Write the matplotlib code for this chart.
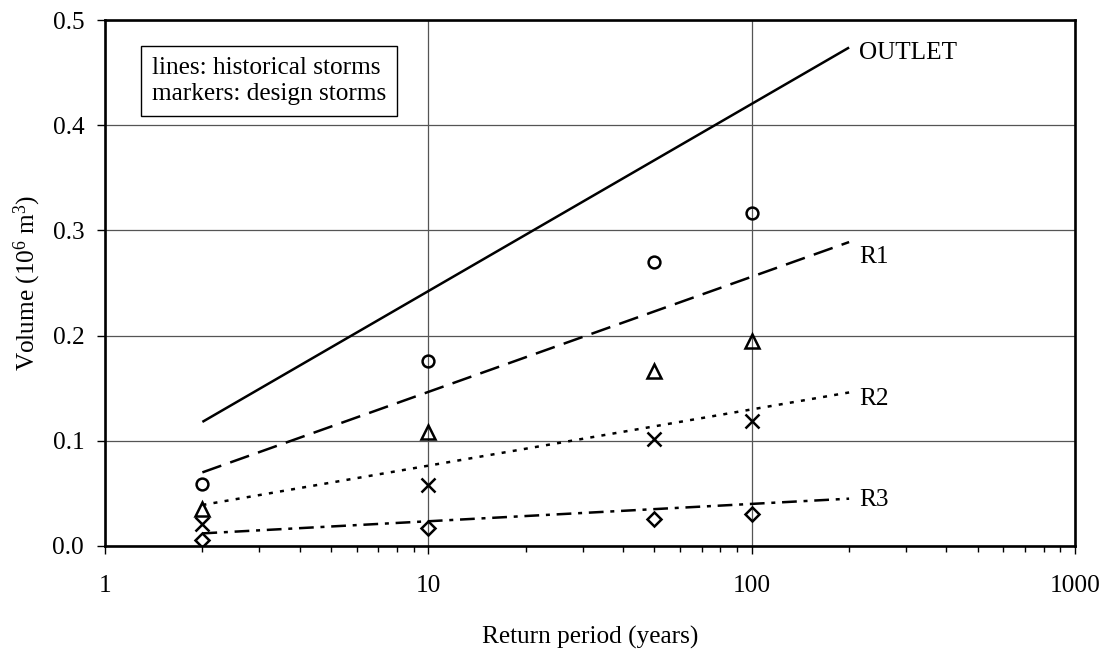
import matplotlib
matplotlib.use("Agg")
import matplotlib.pyplot as plt
from matplotlib.ticker import LogLocator, NullFormatter, FixedLocator, FixedFormatter

plt.rcParams['font.family'] = ['Liberation Serif', 'DejaVu Serif']
plt.rcParams['mathtext.fontset'] = 'custom'
plt.rcParams['mathtext.rm'] = 'Liberation Serif'
plt.rcParams['mathtext.it'] = 'Liberation Serif:italic'

# Historical storm lines (endpoints, return period in years)
line_T = [2, 200]
outlet_line = [0.118, 0.474]
r1_line = [0.070, 0.289]
r2_line = [0.039, 0.146]
r3_line = [0.012, 0.045]

# Design storm markers
design_T = [2, 10, 50, 100]
outlet_pts = [0.059, 0.176, 0.270, 0.317]
r1_pts = [0.035, 0.108, 0.166, 0.195]
r2_pts = [0.021, 0.058, 0.102, 0.119]
r3_pts = [0.006, 0.017, 0.026, 0.030]

labels = ["OUTLET", "R1", "R2", "R3"]
x_ticks = [1, 10, 100, 1000]
x_tick_labels = ["1", "10", "100", "1000"]
y_ticks = [0.0, 0.1, 0.2, 0.3, 0.4, 0.5]
y_tick_labels = ["0.0", "0.1", "0.2", "0.3", "0.4", "0.5"]

FS = 18.2

fig = plt.figure(figsize=(11.07, 6.5), dpi=100)
ax = fig.add_axes([0.0949, 0.16, 0.8763, 0.809])

ax.set_xscale('log')
ax.set_xlim(1, 1000)
ax.set_ylim(0, 0.5)

lw = 1.8
ax.plot(line_T, outlet_line, color='black', lw=lw, solid_capstyle='butt')
ax.plot(line_T, r1_line, color='black', lw=lw, dashes=[8.0, 3.8])
ax.plot(line_T, r2_line, color='black', lw=lw, dashes=[1.6, 2.9])
ax.plot(line_T, r3_line, color='black', lw=lw, dashes=[5.9, 2.7, 1.6, 2.7])

mk = dict(color='black', linestyle='none', markerfacecolor='none', markeredgewidth=1.8)
ax.plot(design_T, outlet_pts, marker='o', markersize=8.5, **mk)
ax.plot(design_T, r1_pts, marker='^', markersize=10.5, **mk)
ax.plot(design_T, r2_pts, marker='x', markersize=9.5, **mk)
ax.plot(design_T, r3_pts, marker='D', markersize=7.5, **mk)

ends = [outlet_line[-1], r1_line[-1], r2_line[-1], r3_line[-1]]
offsets = [-4, -11, -5, -1]
for lab, yv, off in zip(labels, ends, offsets):
    ax.annotate(lab, xy=(line_T[-1], yv), xytext=(7, off), textcoords='offset points',
                ha='left', va='center', fontsize=FS)

ax.text(0.0485, 0.93, "lines: historical storms\nmarkers: design storms",
        transform=ax.transAxes, ha='left', va='top', fontsize=FS, linespacing=1.25,
        bbox=dict(boxstyle='square,pad=0.42', fc='white', ec='black', lw=1))

ax.xaxis.set_major_locator(FixedLocator(x_ticks))
ax.xaxis.set_major_formatter(FixedFormatter(x_tick_labels))
ax.xaxis.set_minor_locator(LogLocator(base=10, subs=range(2, 10)))
ax.xaxis.set_minor_formatter(NullFormatter())
ax.yaxis.set_major_locator(FixedLocator(y_ticks))
ax.yaxis.set_major_formatter(FixedFormatter(y_tick_labels))

ax.grid(True, which='major', color='#555555', lw=0.9)
ax.set_axisbelow(True)

ax.tick_params(axis='x', which='major', direction='out', length=6, width=1, pad=15, labelsize=FS)
ax.tick_params(axis='x', which='minor', direction='out', length=4.5, width=1)
ax.tick_params(axis='y', which='major', direction='out', length=6, width=1, pad=9, labelsize=FS)
ax.tick_params(top=False, right=False)

for s in ax.spines.values():
    s.set_linewidth(1.9)

ax.set_xlabel("Return period (years)", fontsize=FS, labelpad=21)
ax.set_ylabel("Volume (10$^{6}$ m$^{3}$)", fontsize=FS, labelpad=7)

fig.savefig("out.png", dpi=100)
